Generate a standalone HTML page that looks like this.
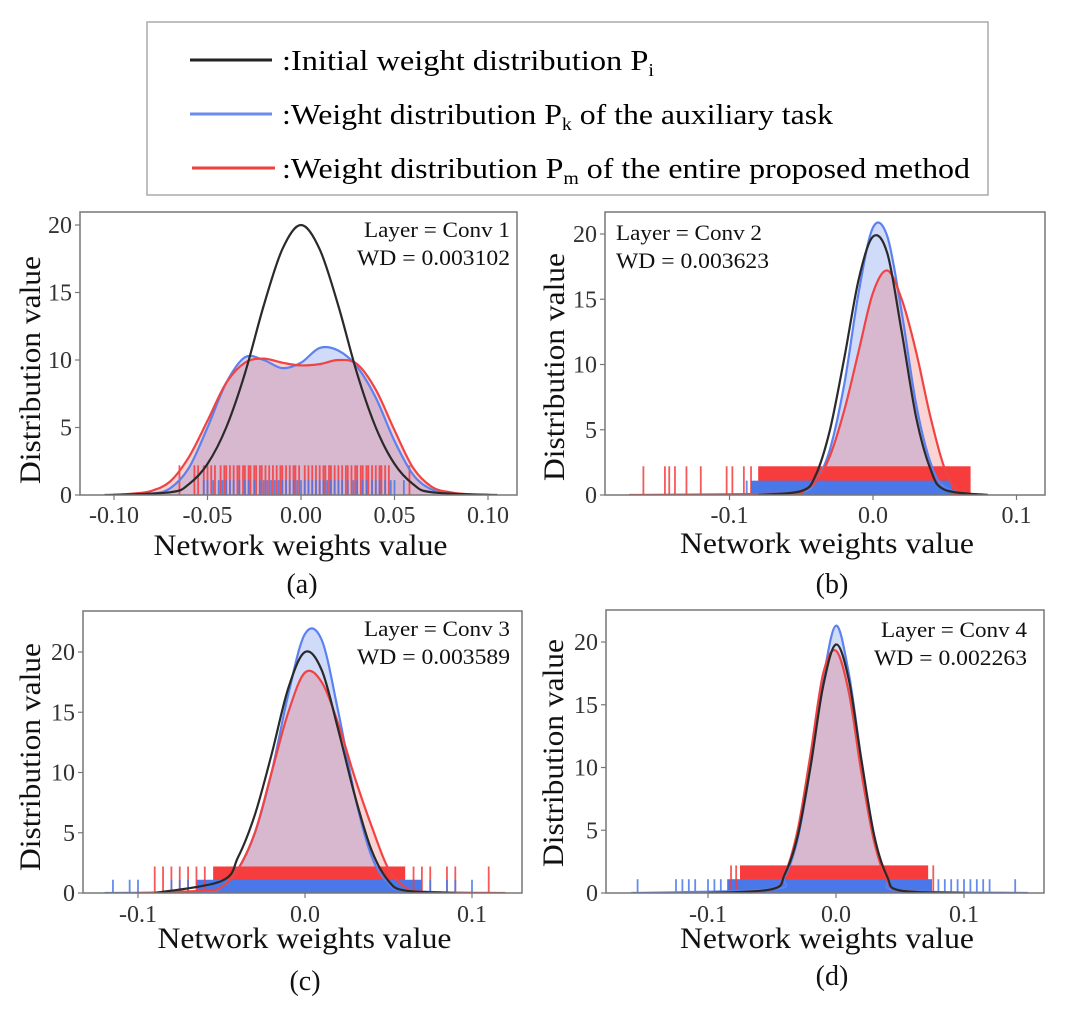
<!DOCTYPE html>
<html><head><meta charset="utf-8">
<style>
body{margin:0;background:#fff;}
svg{display:block;font-family:"Liberation Serif",serif;}
</style></head>
<body>
<svg id="fig" width="1080" height="1027" viewBox="0 0 1080 1027">
<g>
<rect x="147" y="22" width="841" height="173" fill="#fff" stroke="#aaa" stroke-width="1.5"/>
<line x1="190" y1="60" x2="272" y2="60" stroke="#222" stroke-width="3"/>
<text x="282" y="70" font-size="29" textLength="372" lengthAdjust="spacingAndGlyphs">:Initial weight distribution P<tspan font-size="18" dy="6">i</tspan></text>
<line x1="190" y1="114" x2="272" y2="114" stroke="#6a8cf0" stroke-width="3"/>
<text x="282" y="124" font-size="29" textLength="551" lengthAdjust="spacingAndGlyphs">:Weight distribution P<tspan font-size="18" dy="6">k</tspan><tspan dy="-6"> of the auxiliary task</tspan></text>
<line x1="192" y1="168" x2="275" y2="168" stroke="#f04040" stroke-width="3"/>
<text x="282" y="178" font-size="29" textLength="688" lengthAdjust="spacingAndGlyphs">:Weight distribution P<tspan font-size="18" dy="6">m</tspan><tspan dy="-6"> of the entire proposed method</tspan></text>
</g>
</svg>
<script>
// ---- data ----
const panelLabels = ["(a)","(b)","(c)","(d)"];
const layerNames = ["Layer = Conv 1","Layer = Conv 2","Layer = Conv 3","Layer = Conv 4"];
const wdValues = ["WD = 0.003102","WD = 0.003623","WD = 0.003589","WD = 0.002263"];
const xTicksA = [-0.10,-0.05,0.00,0.05,0.10];
const xTickLabelsA = ["-0.10","-0.05","0.00","0.05","0.10"];
const xTicksB = [-0.1,0.0,0.1];
const xTickLabelsB = ["-0.1","0.0","0.1"];
const yTicks = [0,5,10,15,20];
// panel a
const blackXA = [-0.105,-0.07,-0.06,-0.05,-0.04,-0.03,-0.02,-0.01,0,0.01,0.02,0.03,0.04,0.05,0.06,0.07,0.105];
const blackYA = [0,0.2,0.8,2.3,5,9,14,18.2,20,18.2,14,9,5,2.3,0.8,0.2,0];
const blueXA = [-0.1,-0.08,-0.07,-0.06,-0.05,-0.04,-0.03,-0.02,-0.01,0,0.01,0.02,0.03,0.04,0.05,0.06,0.07,0.08,0.1];
const blueYA = [0,0.1,0.5,2,5,8.3,10.2,10,9.4,9.8,10.9,10.7,9.5,7.2,4,1.5,0.4,0.1,0];
const redXA = [-0.1,-0.09,-0.08,-0.07,-0.06,-0.05,-0.04,-0.03,-0.02,-0.01,0,0.01,0.02,0.03,0.04,0.05,0.06,0.07,0.08,0.09,0.1];
const redYA = [0,0.1,0.3,1,2.8,5.5,8.3,9.8,10.1,9.8,9.6,9.7,10,9.7,7.8,4.8,2,0.6,0.2,0.05,0];
// panel b
const blackXB = [-0.08,-0.05,-0.04,-0.03,-0.02,-0.01,0,0.01,0.02,0.03,0.04,0.05,0.08];
const blackYB = [0,0.3,1.5,5,10.5,16.5,19.8,18.5,12.5,6,2,0.4,0];
const blueXB = [-0.08,-0.05,-0.04,-0.03,-0.02,-0.01,0,0.01,0.02,0.03,0.04,0.05,0.07];
const blueYB = [0,0.2,1,3.5,8.5,15.5,20.5,19.8,14,7,2.5,0.6,0];
const redXB = [-0.17,-0.06,-0.05,-0.04,-0.03,-0.02,-0.01,0,0.01,0.02,0.03,0.04,0.05,0.06,0.08];
const redYB = [0,0.1,0.3,1,3,6.5,11,15.5,17.2,15,11,6,2,0.3,0];
// panel c
const blackXC = [-0.09,-0.05,-0.04,-0.03,-0.02,-0.01,0,0.01,0.02,0.03,0.04,0.05,0.06,0.09];
const blackYC = [0,1,3,6.5,11.5,17,20,18.5,13.5,8,3.5,1,0.2,0];
const blueXC = [-0.12,-0.06,-0.05,-0.04,-0.03,-0.02,-0.01,0,0.01,0.02,0.03,0.04,0.05,0.06,0.1];
const blueYC = [0,0.1,0.5,2,5,10,16.5,21.5,21,15,8,3,0.8,0.2,0];
const redXC = [-0.1,-0.06,-0.05,-0.04,-0.03,-0.02,-0.01,0,0.01,0.02,0.03,0.04,0.05,0.06,0.07,0.12];
const redYC = [0,0.2,0.5,2,5,10,15,18.3,17.5,14,9.5,5.5,2,0.5,0.1,0];
// panel d
const blackXD = [-0.1,-0.05,-0.04,-0.03,-0.02,-0.01,0,0.01,0.02,0.03,0.04,0.05,0.1];
const blackYD = [0,0.3,1.5,4.5,10,16.5,19.8,17,10.5,4.5,1.3,0.2,0];
const blueXD = [-0.16,-0.05,-0.04,-0.03,-0.02,-0.01,0,0.01,0.02,0.03,0.04,0.05,0.15];
const blueYD = [0,0.3,1.3,4.3,10,17,21.3,17.5,10.5,4.5,1.2,0.2,0];
const redXD = [-0.09,-0.05,-0.04,-0.03,-0.02,-0.01,0,0.01,0.02,0.03,0.04,0.05,0.09];
const redYD = [0,0.3,1.5,5,11,17.5,19.3,16,9.5,4,1,0.2,0];
// rugs: dense band ranges + individual ticks
const redBand = [[-0.02,0.02],[-0.08,0.068],[-0.055,0.06],[-0.075,0.072]];
const blueBand = [[-0.02,0.02],[-0.085,0.055],[-0.065,0.07],[-0.085,0.075]];
const redTicksA = [-0.065,-0.057,-0.055,-0.052,-0.05,-0.048,-0.046,-0.043,-0.041,-0.04,-0.038,-0.036,-0.034,-0.033,-0.031,-0.03,-0.028,-0.027,-0.025,-0.024,-0.022,-0.021,-0.019,-0.017,-0.015,-0.013,-0.011,-0.01,-0.008,-0.006,-0.004,-0.003,-0.001,0.002,0.004,0.006,0.008,0.01,0.012,0.013,0.015,0.016,0.018,0.02,0.022,0.024,0.025,0.027,0.029,0.03,0.032,0.033,0.035,0.036,0.038,0.04,0.042,0.043,0.045,0.047,0.058];
const blueTicksA = [-0.052,-0.05,-0.047,-0.044,-0.042,-0.04,-0.038,-0.036,-0.033,-0.03,-0.028,-0.025,-0.022,-0.02,-0.018,-0.016,-0.014,-0.012,-0.01,-0.008,-0.006,-0.004,-0.002,0,0.002,0.004,0.006,0.008,0.01,0.012,0.014,0.016,0.018,0.02,0.022,0.025,0.028,0.03,0.033,0.035,0.038,0.04,0.042,0.045,0.048,0.05,0.055];
const redTicksB = [-0.16,-0.145,-0.142,-0.138,-0.13,-0.12,-0.102,-0.098,-0.09,-0.085];
const blueTicksB = [-0.088];
const redTicksC = [-0.09,-0.085,-0.08,-0.075,-0.07,-0.065,-0.06,0.065,0.07,0.075,0.085,0.09,0.11];
const blueTicksC = [-0.115,-0.105,-0.1,-0.08,-0.075,-0.07,0.075,0.085,0.09,0.1];
const redTicksD = [-0.082,-0.078,0.076];
const blueTicksD = [-0.155,-0.125,-0.12,-0.115,-0.11,-0.1,-0.095,-0.09,0.08,0.085,0.09,0.095,0.1,0.105,0.11,0.115,0.12,0.14];

// ---- layout (not data) ----
const panels = [
 {L:80,R:517,T:212,B:495,x0:301,xs:1870,y0:495,ys:13.5,tk:xTicksA,tl:xTickLabelsA,
  bk:[blackXA,blackYA],bl:[blueXA,blueYA],rd:[redXA,redYA],rt:redTicksA,bt:blueTicksA,annX:510,annY:237,annAnchor:"end",lab:[302,593],xtY:555,tkY:523,ytX:30,ytY:370},
 {L:605,R:1045,T:212,B:495,x0:873,xs:1435,y0:495,ys:13.05,tk:xTicksB,tl:xTickLabelsB,
  bk:[blackXB,blackYB],bl:[blueXB,blueYB],rd:[redXB,redYB],rt:redTicksB,bt:blueTicksB,annX:616,annY:240,annAnchor:"start",lab:[832,593],xtY:553,tkY:523,ytX:554,ytY:367},
 {L:83,R:522,T:611,B:893,x0:305,xs:1670,y0:893,ys:12.05,tk:xTicksB,tl:xTickLabelsB,
  bk:[blackXC,blackYC],bl:[blueXC,blueYC],rd:[redXC,redYC],rt:redTicksC,bt:blueTicksC,annX:510,annY:636,annAnchor:"end",lab:[305,990],xtY:948,tkY:922,ytX:30,ytY:757},
 {L:606,R:1044,T:610,B:893,x0:836,xs:1280,y0:893,ys:12.55,tk:xTicksB,tl:xTickLabelsB,
  bk:[blackXD,blackYD],bl:[blueXD,blueYD],rd:[redXD,redYD],rt:redTicksD,bt:blueTicksD,annX:1027,annY:637,annAnchor:"end",lab:[832,985],xtY:948,tkY:922,ytX:553,ytY:753}
];
const NS="http://www.w3.org/2000/svg";
const svg=document.getElementById('fig');
function mk(tag,attrs,parent){const e=document.createElementNS(NS,tag);for(const k in attrs)e.setAttribute(k,attrs[k]);parent.appendChild(e);return e;}
function smooth(pts){let d="M"+pts[0][0]+","+pts[0][1];for(let i=0;i<pts.length-1;i++){const p0=pts[i-1]||pts[i],p1=pts[i],p2=pts[i+1],p3=pts[i+2]||p2;
 const c1x=p1[0]+(p2[0]-p0[0])/6,c1y=p1[1]+(p2[1]-p0[1])/6,c2x=p2[0]-(p3[0]-p1[0])/6,c2y=p2[1]-(p3[1]-p1[1])/6;
 d+=" C"+c1x.toFixed(1)+","+c1y.toFixed(1)+" "+c2x.toFixed(1)+","+c2y.toFixed(1)+" "+p2[0].toFixed(1)+","+p2[1].toFixed(1);}return d;}
panels.forEach((p,i)=>{
 const g=mk('g',{},svg);
 
 
 const X=v=>p.x0+v*p.xs, Y=v=>p.y0-v*p.ys;
 const ymax=(p.B-p.T)/p.ys;
 const cp=mk('clipPath',{id:'cp'+i},g);mk('rect',{x:p.L,y:p.T,width:p.R-p.L,height:p.B-p.T},cp);
 const plot=mk('g',{'clip-path':'url(#cp'+i+')'},g);
 const series=[[p.bl,'#5b82f0','rgba(100,135,240,0.3)','kde-auxiliary'],[p.rd,'#f04444','rgba(235,80,80,0.25)','kde-proposed'],[p.bk,'#2a2a2a',null,'kde-initial']];
 const paths=series.map(s=>{const pts=s[0][0].map((x,k)=>[X(x),Y(s[0][1][k])]);return [pts,smooth(pts)];});
 series.forEach((s,k)=>{ if(!s[2])return; const pts=paths[k][0];
  const f=mk('path',{d:paths[k][1]+" L"+pts[pts.length-1][0]+","+Y(0)+" L"+pts[0][0]+","+Y(0)+"Z",fill:s[2]},plot);
  
  });
 const rb=redBand[i], bb=blueBand[i];
 if(i>0){
  const r1=mk('rect',{x:X(rb[0]),y:Y(2.2),width:X(rb[1])-X(rb[0]),height:Y(0)-Y(2.2),fill:'#f63c3c'},plot);
  
  
  const r2=mk('rect',{x:X(bb[0]),y:Y(1.1),width:X(bb[1])-X(bb[0]),height:Y(0)-Y(1.1),fill:'#4a78e8'},plot);
  
  
 }
 p.rt.forEach(v=>{const l=mk('line',{x1:X(v),x2:X(v),y1:Y(0),y2:Y(2.2),stroke:'#f63c3c','stroke-width':1.8,opacity:0.85},plot);
  
  });
 p.bt.forEach(v=>{const l=mk('line',{x1:X(v),x2:X(v),y1:Y(0),y2:Y(1.1),stroke:'#4a78e8','stroke-width':1.8,opacity:0.85},plot);
  
  });
 series.forEach((s,k)=>{
  const l=mk('path',{d:paths[k][1],fill:'none',stroke:s[1],'stroke-width':2.2},plot);
  
  
 });
 const fr=mk('rect',{x:p.L,y:p.T,width:p.R-p.L,height:p.B-p.T,fill:'none',stroke:'#777','stroke-width':1.5},g);
 
 
 yTicks.forEach(v=>{if(v>ymax)return;
  mk('line',{x1:p.L-5,x2:p.L,y1:Y(v),y2:Y(v),stroke:'#777','stroke-width':1.2},g);
  const t=mk('text',{x:p.L-8,y:Y(v)+8,'text-anchor':'end','font-size':24,fill:'#333'},g);t.textContent=v;
  
  });
 p.tk.forEach((v,k)=>{
  mk('line',{x1:X(v),x2:X(v),y1:p.B,y2:p.B+5,stroke:'#777','stroke-width':1.2},g);
  const t=mk('text',{x:X(v),y:p.tkY,'text-anchor':'middle','font-size':24,fill:'#333'},g);t.textContent=p.tl[k];
  
  });
 const xt=mk('text',{x:(p.L+p.R)/2+2,y:p.xtY,'text-anchor':'middle','font-size':30,fill:'#111',textLength:294,lengthAdjust:'spacingAndGlyphs'},g);xt.textContent="Network weights value";
 
 
 const yx=p.ytX+10, cy=p.ytY;
 const yt=mk('text',{x:yx,y:cy,'text-anchor':'middle','font-size':30,fill:'#111',textLength:228,lengthAdjust:'spacingAndGlyphs',transform:'rotate(-90 '+yx+' '+cy+')'},g);yt.textContent="Distribution value";
 
 
 const a1=mk('text',{x:p.annX,y:p.annY,'text-anchor':p.annAnchor,'font-size':22,fill:'#111',textLength:146,lengthAdjust:'spacingAndGlyphs'},g);a1.textContent=layerNames[i];
 
 
 const a2=mk('text',{x:p.annX,y:p.annY+28,'text-anchor':p.annAnchor,'font-size':22,fill:'#111',textLength:153,lengthAdjust:'spacingAndGlyphs'},g);a2.textContent=wdValues[i];
 
 
 const pl=mk('text',{x:p.lab[0],y:p.lab[1],'text-anchor':'middle','font-size':28,fill:'#111'},g);pl.textContent=panelLabels[i];
 
 
});
</script>
</body></html>
